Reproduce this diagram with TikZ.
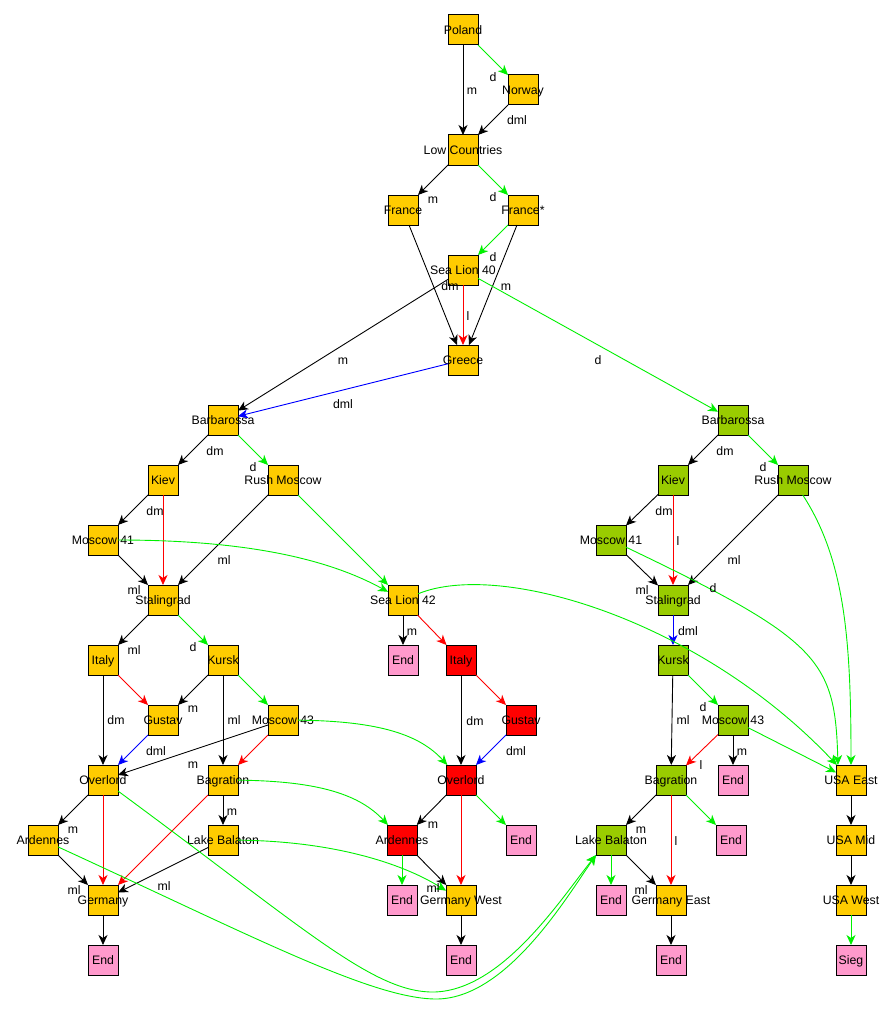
\documentclass[tikz,border=0pt]{standalone}
\usepackage{fontspec}
\setmainfont{Liberation Sans}
\usetikzlibrary{arrows.meta}
\definecolor{nodeor}{RGB}{255,204,0}
\definecolor{nodegr}{RGB}{153,204,0}
\definecolor{nodered}{RGB}{255,0,0}
\definecolor{nodepk}{RGB}{255,153,204}
\definecolor{egreen}{RGB}{0,240,0}
\definecolor{eblue}{RGB}{0,0,255}
\definecolor{ered}{RGB}{255,0,0}
\begin{document}
\begin{tikzpicture}[x=1pt,y=-1pt,
  box/.style={draw=black, line width=1pt, minimum size=30pt, inner sep=0pt, outer sep=0pt,
    font=\fontsize{12.3}{14}\selectfont, text height=8.6pt, text depth=0pt},
  ob/.style={box, fill=nodeor},
  gb/.style={box, fill=nodegr},
  rb/.style={box, fill=nodered},
  pb/.style={box, fill=nodepk},
  ed/.style={line width=0.9pt, -{Stealth[length=10pt,width=9pt,inset=3pt]}},
  bk/.style={ed, draw=black},
  gn/.style={ed, draw=egreen},
  rd/.style={ed, draw=ered},
  bl/.style={ed, draw=eblue},
  lab/.style={font=\fontsize{12.3}{14}\selectfont, inner sep=0pt, text height=8.6pt, text depth=0pt}]
\useasboundingbox (0,0) rectangle (896,1014);

% ---- nodes ----
\node[ob] (poland)   at (463,30)  {\makebox[0pt]{Poland}};
\node[ob] (norway)   at (523,90)  {\makebox[0pt]{Norway}};
\node[ob] (lowc)     at (463,150) {\makebox[0pt]{Low Countries}};
\node[ob] (france)   at (403,210) {\makebox[0pt]{France}};
\node[ob] (francest) at (523,210) {\makebox[0pt]{France*}};
\node[ob] (sealion40) at (463,270) {\makebox[0pt]{Sea Lion 40}};
\node[ob] (greece)   at (463,360) {\makebox[0pt]{Greece}};

\node[ob] (barbL)   at (223,420) {\makebox[0pt]{Barbarossa}};
\node[ob] (kievL)   at (163,480) {\makebox[0pt]{Kiev}};
\node[ob] (rushL)   at (283,480) {\makebox[0pt]{Rush Moscow}};
\node[ob] (mos41L)  at (103,540) {\makebox[0pt]{Moscow 41}};
\node[ob] (stalL)   at (163,600) {\makebox[0pt]{Stalingrad}};
\node[ob] (italyL)  at (103,660) {\makebox[0pt]{Italy}};
\node[ob] (kurskL)  at (223,660) {\makebox[0pt]{Kursk}};
\node[ob] (gustavL) at (163,720) {\makebox[0pt]{Gustav}};
\node[ob] (mos43L)  at (283,720) {\makebox[0pt]{Moscow 43}};
\node[ob] (overL)   at (103,780) {\makebox[0pt]{Overlord}};
\node[ob] (bagL)    at (223,780) {\makebox[0pt]{Bagration}};
\node[ob] (ardL)    at (43,840)  {\makebox[0pt]{Ardennes}};
\node[ob] (lbL)     at (223,840) {\makebox[0pt]{Lake Balaton}};
\node[ob] (germany) at (103,900) {\makebox[0pt]{Germany}};
\node[pb] (endG)    at (103,960) {\makebox[0pt]{End}};

\node[ob] (sealion42) at (403,600) {\makebox[0pt]{Sea Lion 42}};
\node[pb] (endSL)   at (403,660) {\makebox[0pt]{End}};
\node[rb] (italyM)  at (461,660) {\makebox[0pt]{Italy}};
\node[rb] (gustavM) at (521,720) {\makebox[0pt]{Gustav}};
\node[rb] (overM)   at (461,780) {\makebox[0pt]{Overlord}};
\node[rb] (ardM)    at (402,840) {\makebox[0pt]{Ardennes}};
\node[pb] (endOM)   at (521,840) {\makebox[0pt]{End}};
\node[pb] (endAM)   at (402,900) {\makebox[0pt]{End}};
\node[ob] (germW)   at (461,900) {\makebox[0pt]{Germany West}};
\node[pb] (endGW)   at (461,960) {\makebox[0pt]{End}};

\node[gb] (barbR)   at (733,420) {\makebox[0pt]{Barbarossa}};
\node[gb] (kievR)   at (673,480) {\makebox[0pt]{Kiev}};
\node[gb] (rushR)   at (793,480) {\makebox[0pt]{Rush Moscow}};
\node[gb] (mos41R)  at (611,540) {\makebox[0pt]{Moscow 41}};
\node[gb] (stalR)   at (673,600) {\makebox[0pt]{Stalingrad}};
\node[gb] (kurskR)  at (673,660) {\makebox[0pt]{Kursk}};
\node[gb] (mos43R)  at (733,720) {\makebox[0pt]{Moscow 43}};
\node[pb] (endMR)   at (733,780) {\makebox[0pt]{End}};
\node[gb] (bagR)    at (671,780) {\makebox[0pt]{Bagration}};
\node[gb] (lbR)     at (611,840) {\makebox[0pt]{Lake Balaton}};
\node[pb] (endBR)   at (731,840) {\makebox[0pt]{End}};
\node[pb] (endLR)   at (611,900) {\makebox[0pt]{End}};
\node[ob] (germE)   at (671,900) {\makebox[0pt]{Germany East}};
\node[pb] (endGE)   at (671,960) {\makebox[0pt]{End}};

\node[ob] (usaE)    at (851,780) {\makebox[0pt]{USA East}};
\node[ob] (usaM)    at (851,840) {\makebox[0pt]{USA Mid}};
\node[ob] (usaW)    at (851,900) {\makebox[0pt]{USA West}};
\node[pb] (sieg)    at (851,960) {\makebox[0pt]{Sieg}};

% ---- black edges ----
\foreach \a/\b in {poland/lowc, norway/lowc, lowc/france, france/greece, francest/greece,
  sealion40/barbL, barbL/kievL, kievL/mos41L, mos41L/stalL, rushL/stalL, stalL/italyL,
  italyL/overL, kurskL/gustavL, kurskL/bagL, mos43L/overL, overL/ardL, bagL/lbL,
  ardL/germany, lbL/germany, germany/endG, sealion42/endSL, italyM/overM, overM/ardM,
  ardM/germW, germW/endGW, barbR/kievR, kievR/mos41R, mos41R/stalR, rushR/stalR,
  kurskR/bagR, mos43R/endMR, bagR/lbR, lbR/germE, germE/endGE, usaE/usaM, usaM/usaW}
  \draw[bk] (\a) -- (\b);

% ---- green edges ----
\foreach \a/\b in {poland/norway, lowc/francest, francest/sealion40, sealion40/barbR,
  barbL/rushL, rushL/sealion42, stalL/kurskL, kurskL/mos43L, barbR/rushR, kurskR/mos43R,
  mos43R/usaE, bagR/endBR, lbR/endLR, overM/endOM, ardM/endAM, usaW/sieg}
  \draw[gn] (\a) -- (\b);

% ---- red edges ----
\foreach \a/\b in {sealion40/greece, kievL/stalL, italyL/gustavL, mos43L/bagL,
  overL/germany, bagL/germany, sealion42/italyM, italyM/gustavM, overM/germW,
  kievR/stalR, mos43R/bagR, bagR/germE}
  \draw[rd] (\a) -- (\b);

% ---- blue edges ----
\foreach \a/\b in {greece/barbL, gustavL/overL, gustavM/overM, stalR/kurskR}
  \draw[bl] (\a) -- (\b);

% ---- curved green edges ----
\draw[gn] (mos41L) .. controls (250,540) and (330,560) .. (sealion42);
\draw[gn] (mos43L) .. controls (380,721) and (420,735) .. (overM);
\draw[gn] (bagL) .. controls (320,781) and (360,795) .. (ardM);
\draw[gn] (lbL) .. controls (330,841) and (400,862) .. (germW);
\draw[gn] (sealion42) .. controls (500,560) and (700,620) .. (usaE);
\draw[gn] (mos41R) .. controls (820,640) and (835,660) .. (usaE.131);
\draw[gn] (rushR) .. controls (845,560) and (851,640) .. (usaE.north);
\draw[gn] (overL) .. controls (300,925) and (370,990) .. (430,992)
  .. controls (500,994) and (560,900) .. (lbR.south west);
\draw[gn] (ardL) .. controls (250,935) and (370,998) .. (435,999)
  .. controls (505,1000) and (565,900) .. (lbR.south west);

% ---- edge labels ----
\foreach \p/\t [count=\i] in {
  {(472,90)}/m, {(493,77)}/d, {(517,120)}/dml, {(433,199)}/m, {(493,197)}/d,
  {(493,257)}/d, {(450,286)}/dm, {(506,286)}/m, {(468,316)}/l, {(343,360)}/m,
  {(598,360)}/d, {(343,404)}/dml, {(215,451)}/dm, {(253,467)}/d, {(155,511)}/dm,
  {(134,590)}/ml, {(224,560)}/ml, {(134,650)}/ml, {(193,647)}/d, {(116,720)}/dm,
  {(193,708)}/m, {(234,720)}/ml, {(156,751)}/dml, {(193,764)}/m, {(73,829)}/m,
  {(232,811)}/m, {(74,890)}/ml, {(164,886)}/ml, {(412,631)}/m, {(475,721)}/dm,
  {(516,751)}/dml, {(433,824)}/m, {(433,888)}/ml, {(725,451)}/dm, {(763,467)}/d,
  {(664,511)}/dm, {(678,541)}/l, {(642,590)}/ml, {(734,560)}/ml, {(713,588)}/d,
  {(688,631)}/dml, {(703,707)}/d, {(683,720)}/ml, {(701,765)}/l, {(742,751)}/m,
  {(641,829)}/m, {(676,841)}/l, {(641,890)}/ml}
  \node[lab] (lab\i) at \p {\t};
\end{tikzpicture}
\end{document}
